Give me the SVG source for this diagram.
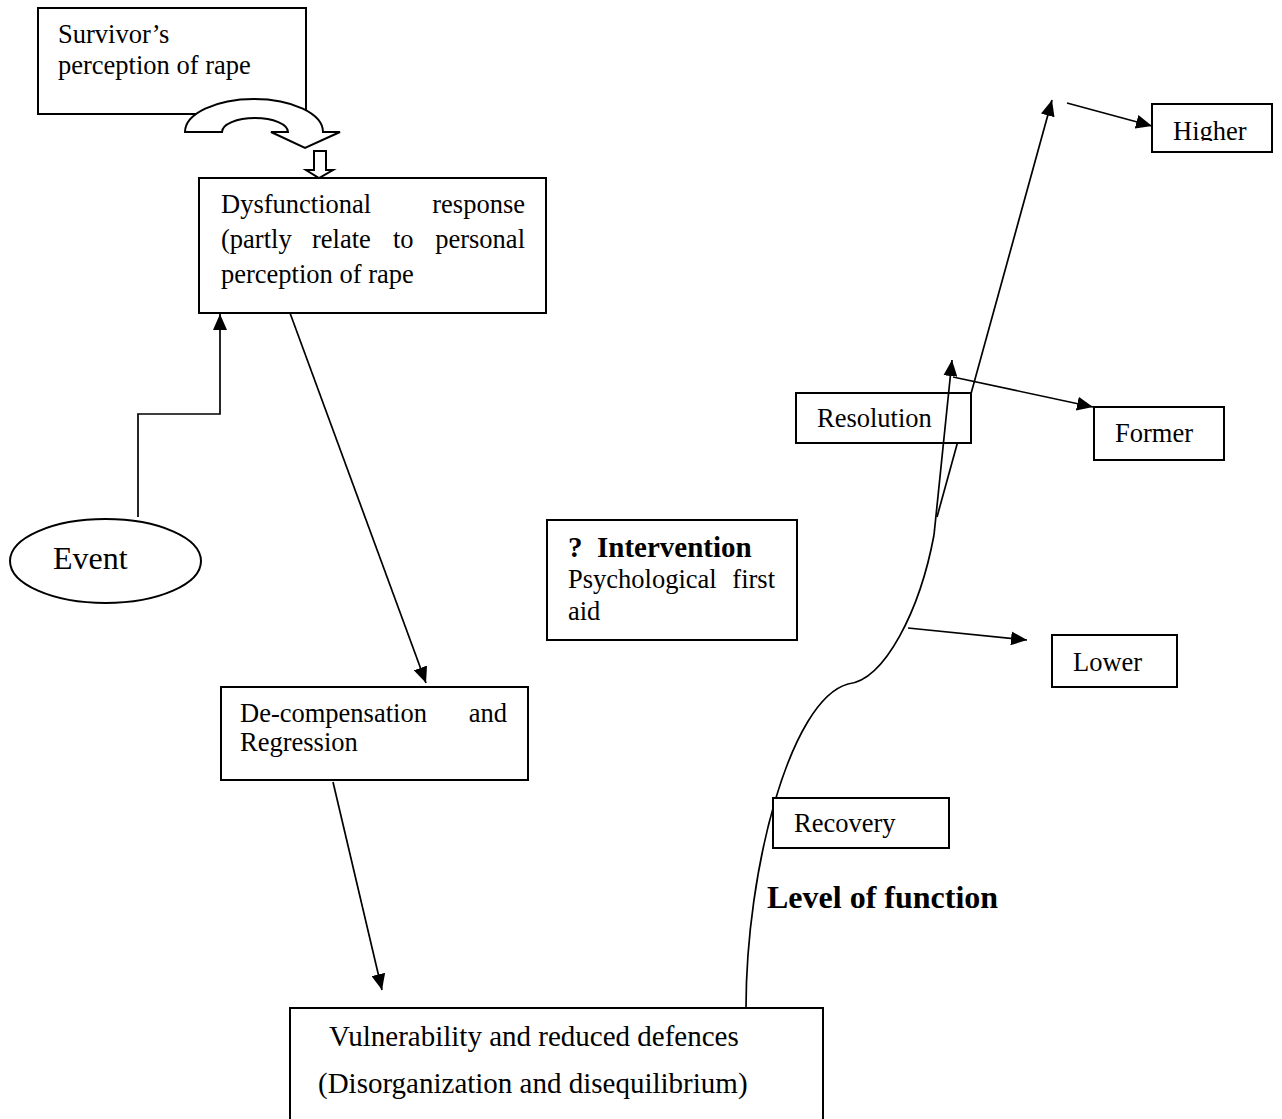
<svg xmlns="http://www.w3.org/2000/svg" width="1282" height="1119" viewBox="0 0 1282 1119">
  <style>
    .box { fill: #ffffff; stroke: #000000; stroke-width: 2; }
    .line { fill: none; stroke: #000000; stroke-width: 1.7; }
    .arrow { marker-end: url(#head); }
    .txt { font-family: "Liberation Serif", "Times New Roman", serif; font-size: 26.5px; fill: #000000; }
    .big { font-size: 29px; }
    .bold { font-weight: bold; }
    .end { text-anchor: end; }
  </style>
  <defs>
    <marker id="head" viewBox="0 0 16 14" markerWidth="16" markerHeight="14" refX="16" refY="7" orient="auto" markerUnits="userSpaceOnUse">
      <path d="M0,0 L16,7 L0,14 Z" fill="#000000"/>
    </marker>
    <clipPath id="clipHigher">
      <rect x="1150" y="100" width="125" height="41"/>
    </clipPath>
  </defs>

  <rect width="1282" height="1119" fill="#ffffff"/>

  <!-- perception box -->
  <g id="survivor-perception">
    <rect class="box" x="38" y="8" width="268" height="106"/>
    <text class="txt" x="58" y="43">Survivor’s</text>
    <text class="txt" x="58" y="74">perception of rape</text>
  </g>

  <!-- curved block arrow and small block arrow -->
  <g id="perception-feed">
    <path class="box" d="M185,132 A69,33 0 0 1 323,132 L340,132 L305,148 L271,132 L288,132 A33,14 0 0 0 222,132 Z"/>
    <path class="box" d="M314,151 L326,151 L326,170 L333,170 L319,178 L306,170 L314,170 Z"/>
  </g>

  <g id="dysfunctional-response">
    <rect class="box" x="199" y="178" width="347" height="135"/>
    <text class="txt" x="221" y="213">Dysfunctional</text>
    <text class="txt end" x="525" y="213">response</text>
    <text class="txt" x="221" y="248">(partly</text>
    <text class="txt" x="312" y="248">relate</text>
    <text class="txt" x="393" y="248">to</text>
    <text class="txt end" x="525" y="248">personal</text>
    <text class="txt" x="221" y="283">perception of rape</text>
  </g>

  <g id="event">
    <ellipse class="box" cx="105.5" cy="561" rx="95.5" ry="42"/>
    <text class="txt" style="font-size:32px" x="53" y="569">Event</text>
  </g>

  <g id="intervention">
    <rect class="box" x="547" y="520" width="250" height="120"/>
    <text class="txt bold big" x="568" y="557">?</text>
    <text class="txt bold big" x="597" y="557">Intervention</text>
    <text class="txt" x="568" y="588">Psychological</text>
    <text class="txt end" x="775" y="588">first</text>
    <text class="txt" x="568" y="620">aid</text>
  </g>

  <g id="decompensation">
    <rect class="box" x="221" y="687" width="307" height="93"/>
    <text class="txt" x="240" y="722">De-compensation</text>
    <text class="txt end" x="507" y="722">and</text>
    <text class="txt" x="240" y="751">Regression</text>
  </g>

  <g id="vulnerability">
    <rect class="box" x="290" y="1008" width="533" height="130"/>
    <text class="txt big" x="329" y="1046">Vulnerability and reduced defences</text>
    <text class="txt big" x="318" y="1093">(Disorganization and disequilibrium)</text>
  </g>

  <!-- connectors -->
  <g id="connectors">
    <path class="line arrow" d="M138,517 L138,414 L220,414 L220,314"/>
    <path class="line arrow" d="M290,313 L426,683"/>
    <path class="line arrow" d="M333,782 L382,990"/>
    <!-- level-of-function curve rising to the resolution point -->
    <path class="line" d="M746,1008 C746,870 790,700 848,684 C885,680 920,610 934,535"/>
    <path class="line arrow" d="M937,517 L1052,100"/>
    <path class="line arrow" d="M1067,103 L1152,126"/>
    <path class="line arrow" d="M908,628 L1027,640"/>
  </g>

  <g id="resolution">
    <rect class="box" x="796" y="393" width="175" height="50"/>
    <text class="txt" x="817" y="427">Resolution</text>
  </g>

  <g id="resolution-links">
    <path class="line arrow" d="M934,535 L952,360"/>
    <path class="line arrow" d="M953,377 L1093,407"/>
  </g>

  <g id="higher">
    <rect class="box" x="1152" y="104" width="120" height="48"/>
    <text class="txt" x="1173" y="140" clip-path="url(#clipHigher)">Higher</text>
  </g>

  <g id="former">
    <rect class="box" x="1094" y="407" width="130" height="53"/>
    <text class="txt" x="1115" y="442">Former</text>
  </g>

  <g id="lower">
    <rect class="box" x="1052" y="635" width="125" height="52"/>
    <text class="txt" x="1073" y="671">Lower</text>
  </g>

  <g id="recovery">
    <rect class="box" x="773" y="798" width="176" height="50"/>
    <text class="txt" x="794" y="832">Recovery</text>
  </g>

  <g id="level-label">
    <text class="txt bold" style="font-size:32px" x="767" y="908">Level of function</text>
  </g>
</svg>
